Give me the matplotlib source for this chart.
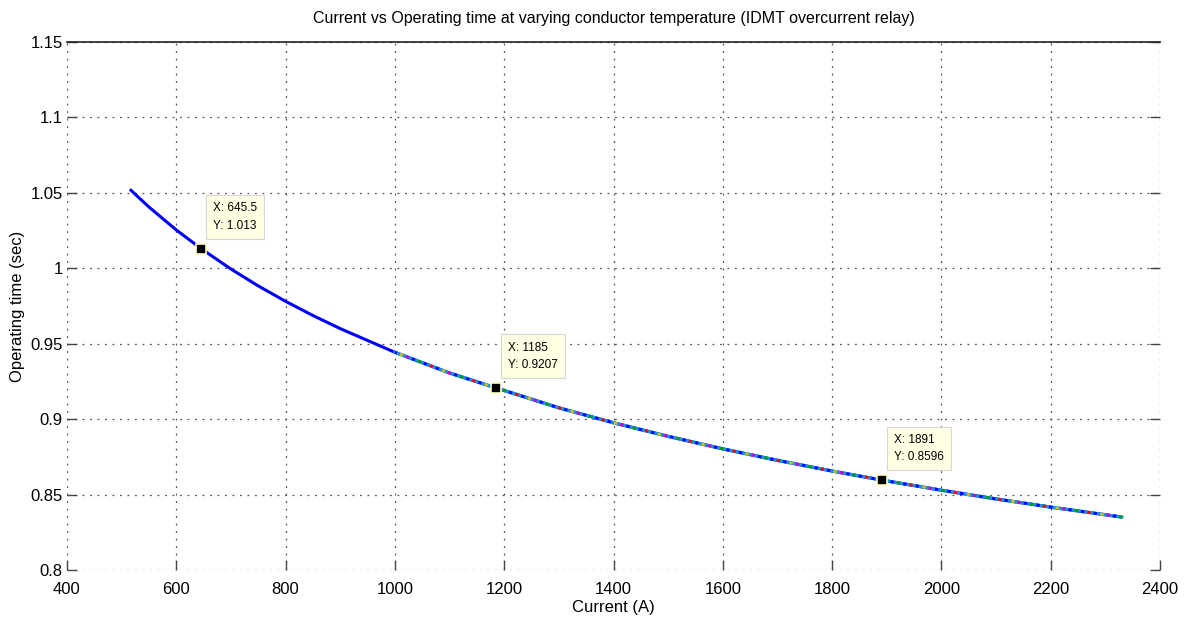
import matplotlib
matplotlib.use("Agg")
import matplotlib.pyplot as plt

plt.rcParams['font.family'] = ['Liberation Sans', 'DejaVu Sans']

# Data
current = [515, 550, 600, 645.5, 700, 750, 800, 850, 900, 1000, 1100, 1185,
           1300, 1400, 1500, 1600, 1700, 1800, 1891, 2000, 2100, 2200, 2330]
op_time = [1.0524, 1.0406, 1.0254, 1.013, 0.9995, 0.9883, 0.9781, 0.9687,
           0.9600, 0.9443, 0.9306, 0.9207, 0.9075, 0.8976, 0.8886, 0.8803,
           0.8727, 0.8656, 0.8596, 0.8529, 0.8471, 0.8417, 0.8351]
# overlapping curves for other temperatures (visually identical, from ~1050 A)
current_hot = current[9:]
op_time_hot = op_time[9:]

tip_x = [645.5, 1185, 1891]
tip_y = [1.013, 0.9207, 0.8596]
tip_labels = ["X: 645.5\nY: 1.013", "X: 1185\nY: 0.9207", "X: 1891\nY: 0.8596"]

x_ticks = [400, 600, 800, 1000, 1200, 1400, 1600, 1800, 2000, 2200, 2400]
y_ticks = [0.8, 0.85, 0.9, 0.95, 1.0, 1.05, 1.1, 1.15]
y_tick_labels = ["0.8", "0.85", "0.9", "0.95", "1", "1.05", "1.1", "1.15"]

fig = plt.figure(figsize=(11.9, 6.26), dpi=100)
ax = fig.add_axes([67/1190, 1-570/626, (1160-67)/1190, (570-42)/626])

ax.plot(current, op_time, color='#0000ff', lw=2.2, zorder=3, solid_capstyle='butt')
ax.plot(current_hot, op_time_hot, color='#1c8fe0', lw=2.4, zorder=4)
overlay_colors = ['#0000ff', '#ff0000', '#0000ff', '#00a000', '#0000ff', '#cc00cc', '#d0c000']
for i, c in enumerate(overlay_colors):
    ax.plot(current_hot, op_time_hot, color=c, lw=2.0, zorder=5,
            linestyle=(i * 2.3 + 0.5, (1.2, 15)))

for x, y, lab in zip(tip_x, tip_y, tip_labels):
    ax.plot([x], [y], marker='s', ms=7, mfc='black', mec='#ffffc0', mew=1.2,
            ls='none', zorder=7)
    ax.annotate(lab, xy=(x, y), xytext=(12, 17), textcoords='offset pixels',
                ha='left', va='bottom', fontsize=8.5, linespacing=1.6, zorder=8,
                bbox=dict(boxstyle='square,pad=0.6', fc='#ffffe4', ec='#d8d8d0', lw=0.8))

ax.set_xlim(400, 2400)
ax.set_ylim(0.8, 1.15)
ax.set_xticks(x_ticks)
ax.set_yticks(y_ticks)
ax.set_yticklabels(y_tick_labels)
ax.tick_params(axis='both', direction='in', length=7, width=1, color='#444444',
               labelsize=12, right=True, top=False)
ax.tick_params(axis='y', pad=3)
ax.tick_params(axis='x', pad=9)

for side in ['left', 'right', 'bottom']:
    ax.spines[side].set_visible(False)
ax.spines['top'].set_linewidth(1.2)
ax.spines['top'].set_color('#222222')

ax.grid(True, color='#555555', linestyle=(0, (1.5, 4.5)), linewidth=0.9)
ax.set_axisbelow(True)

ax.set_title("Current vs Operating time at varying conductor temperature (IDMT overcurrent relay)",
             fontsize=11.5, pad=14)
ax.set_xlabel("Current (A)", fontsize=12, labelpad=2)
ax.set_ylabel("Operating time (sec)", fontsize=12, labelpad=4)

fig.savefig("out.png", dpi=100)
